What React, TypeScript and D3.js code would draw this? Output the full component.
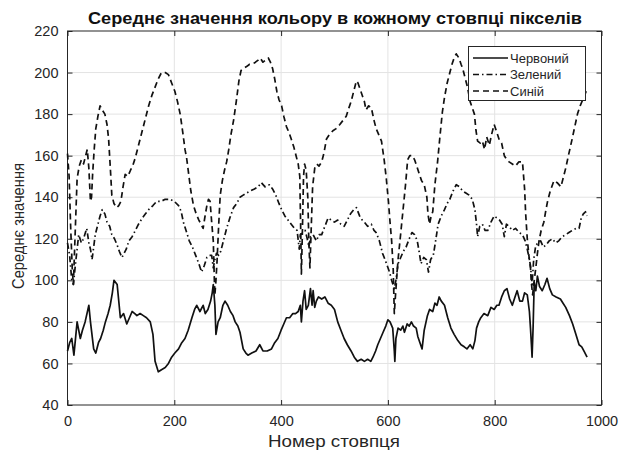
import React, { useEffect, useRef } from 'react';
import { select, scaleLinear, line, axisBottom, axisLeft, axisTop, axisRight } from 'd3';

const title = 'Середнє значення кольору в кожному стовпці пікселів';
const xLabel = 'Номер стовпця';
const yLabel = 'Середнє значення';
const xTicks = [0, 200, 400, 600, 800, 1000];
const yTicks = [40, 60, 80, 100, 120, 140, 160, 180, 200, 220];
const seriesNames = ['Червоний', 'Зелений', 'Синій'];

// [column, mean value]
const red = [
  [0, 66], [4, 70], [8, 72], [12, 64], [18, 80], [24, 72], [28, 76], [33, 80], [40, 88], [43, 80], [49, 67], [53, 65],
  [58, 70], [62, 72], [67, 76], [71, 80], [76, 84], [80, 88], [84, 94], [87, 100], [93, 98], [99, 82], [105, 84],
  [111, 79], [116, 82], [121, 85], [126, 84], [130, 83], [136, 84], [142, 83], [148, 82], [155, 80], [160, 74],
  [164, 61], [170, 56], [176, 57], [183, 58], [189, 60], [195, 63], [201, 65], [208, 67], [214, 70], [220, 72],
  [226, 76], [233, 82], [238, 86], [242, 88], [248, 85], [254, 88], [258, 84], [263, 86], [268, 90], [271, 94],
  [273, 98], [276, 88], [278, 74], [282, 80], [286, 82], [291, 88], [295, 90], [300, 88], [305, 85], [310, 83],
  [314, 80], [319, 78], [323, 75], [329, 67], [334, 65], [338, 64], [345, 65], [353, 66], [360, 69], [366, 66],
  [374, 66], [382, 67], [388, 70], [394, 72], [400, 76], [405, 79], [410, 82], [416, 82], [422, 84], [427, 84],
  [432, 85], [436, 88], [438, 80], [441, 90], [444, 95], [447, 86], [451, 88], [455, 96], [458, 88], [460, 95],
  [463, 87], [466, 90], [470, 92], [476, 91], [482, 92], [488, 89], [494, 88], [500, 86], [506, 80], [512, 76],
  [518, 72], [524, 69], [531, 66], [537, 63], [543, 61], [550, 62], [556, 61], [562, 62], [568, 61], [572, 63],
  [577, 66], [581, 69], [586, 72], [591, 75], [596, 78], [600, 81], [604, 80], [609, 77], [612, 66], [613, 61],
  [615, 72], [619, 77], [624, 76], [628, 78], [631, 75], [636, 79], [640, 78], [644, 80], [648, 78], [653, 77],
  [656, 73], [660, 70], [664, 67], [668, 76], [674, 83], [678, 86], [684, 85], [688, 89], [692, 88], [696, 92],
  [700, 90], [706, 88], [712, 82], [718, 77], [724, 74], [731, 71], [737, 69], [743, 68], [748, 67], [754, 69],
  [759, 67], [763, 71], [766, 77], [770, 80], [774, 82], [780, 84], [787, 83], [793, 87], [799, 86], [804, 88],
  [808, 88], [813, 92], [818, 95], [823, 96], [828, 91], [833, 88], [838, 92], [842, 95], [847, 90], [852, 90],
  [856, 94], [861, 93], [865, 85], [867, 77], [869, 68], [870, 63], [872, 78], [874, 99], [877, 95], [880, 102],
  [884, 97], [889, 95], [894, 98], [898, 101], [903, 96], [908, 93], [915, 92], [923, 91], [928, 89], [933, 87],
  [940, 83], [946, 79], [952, 74], [958, 69], [963, 68], [967, 66], [973, 63],
];

const green = [
  [0, 118], [4, 112], [8, 100], [11, 98], [15, 108], [21, 122], [26, 118], [30, 120], [36, 125], [40, 118],
  [43, 115], [46, 110], [49, 116], [52, 122], [56, 126], [61, 131], [65, 134], [70, 132], [74, 128], [79, 126],
  [83, 122], [88, 120], [93, 117], [97, 114], [102, 111], [106, 113], [110, 115], [115, 119], [121, 121],
  [127, 124], [133, 127], [140, 130], [146, 132], [152, 134], [160, 136], [167, 138], [175, 138], [183, 139],
  [192, 139], [200, 138], [208, 136], [213, 133], [217, 128], [222, 124], [228, 119], [234, 116], [240, 112],
  [246, 108], [251, 104], [256, 107], [261, 111], [266, 112], [270, 112], [273, 106], [276, 110], [279, 113],
  [283, 112], [287, 114], [292, 119], [298, 125], [304, 130], [311, 135], [317, 137], [323, 140], [329, 141],
  [335, 142], [342, 143], [350, 144], [357, 145], [363, 147], [370, 145], [378, 146], [384, 144], [390, 141],
  [396, 137], [401, 134], [407, 131], [413, 129], [419, 127], [425, 125], [430, 124], [434, 115], [436, 122],
  [441, 123], [445, 124], [449, 120], [452, 116], [455, 121], [460, 122], [466, 119], [471, 122], [476, 122],
  [482, 126], [488, 130], [494, 129], [500, 128], [506, 129], [512, 127], [518, 126], [524, 129], [530, 132],
  [536, 134], [541, 135], [547, 131], [552, 129], [556, 128], [562, 126], [569, 127], [574, 124], [578, 123],
  [584, 119], [590, 113], [596, 109], [603, 104], [607, 100], [612, 96], [615, 100], [619, 108], [624, 111],
  [629, 114], [634, 116], [640, 120], [645, 123], [650, 122], [655, 119], [659, 113], [662, 108], [667, 111],
  [672, 110], [676, 104], [680, 110], [685, 112], [690, 120], [694, 127], [700, 131], [706, 134], [711, 137],
  [716, 139], [722, 143], [728, 146], [734, 145], [740, 143], [746, 142], [752, 141], [758, 139], [763, 134],
  [766, 127], [768, 121], [772, 126], [777, 127], [782, 124], [787, 124], [793, 128], [799, 131], [804, 130],
  [809, 129], [814, 127], [818, 121], [822, 127], [827, 126], [833, 124], [839, 125], [846, 123], [852, 122],
  [857, 119], [861, 115], [865, 110], [867, 107], [870, 98], [873, 110], [877, 117], [882, 118], [886, 119],
  [891, 116], [896, 117], [902, 119], [908, 120], [914, 118], [920, 119], [926, 121], [933, 122], [939, 123],
  [945, 124], [952, 125], [958, 125], [962, 130], [966, 132], [970, 133], [973, 131],
];

const blue = [
  [0, 161], [3, 150], [6, 125], [9, 105], [11, 98], [14, 120], [18, 149], [22, 155], [26, 158], [30, 156],
  [34, 160], [37, 163], [40, 154], [43, 138], [45, 140], [47, 151], [50, 163], [53, 173], [57, 179], [61, 184],
  [65, 182], [70, 180], [74, 175], [77, 168], [80, 155], [83, 141], [87, 137], [92, 135], [96, 136], [100, 138],
  [104, 145], [108, 151], [113, 150], [118, 153], [122, 155], [127, 159], [133, 165], [139, 171], [145, 177],
  [152, 184], [158, 189], [164, 193], [170, 197], [176, 200], [183, 200], [189, 199], [195, 195], [201, 191],
  [206, 186], [211, 180], [216, 171], [220, 163], [223, 159], [227, 151], [231, 143], [236, 136], [241, 132],
  [246, 129], [250, 127], [254, 125], [257, 130], [261, 136], [264, 139], [267, 138], [270, 128], [273, 119],
  [275, 100], [276, 93], [278, 100], [280, 109], [283, 126], [286, 141], [290, 148], [294, 153], [298, 157],
  [302, 163], [306, 170], [311, 177], [316, 186], [321, 196], [325, 201], [330, 202], [336, 203], [341, 204],
  [346, 204], [352, 205], [357, 206], [361, 207], [366, 205], [371, 206], [376, 207], [380, 205], [384, 202],
  [388, 197], [392, 191], [396, 187], [401, 184], [405, 179], [410, 174], [415, 171], [419, 168], [424, 164],
  [428, 160], [432, 156], [435, 150], [437, 120], [438, 103], [440, 125], [442, 150], [444, 156], [447, 153],
  [450, 140], [452, 118], [454, 106], [456, 122], [459, 145], [463, 154], [467, 156], [471, 155], [476, 157],
  [480, 161], [485, 168], [490, 170], [497, 172], [503, 173], [510, 175], [516, 177], [522, 179], [527, 183],
  [531, 186], [536, 191], [541, 196], [544, 195], [548, 192], [552, 189], [556, 186], [559, 182], [564, 184],
  [569, 183], [574, 177], [578, 173], [583, 170], [588, 167], [593, 158], [597, 149], [601, 138], [604, 128],
  [607, 119], [610, 105], [612, 84], [614, 92], [617, 103], [619, 110], [623, 120], [628, 133], [633, 146],
  [637, 158], [641, 160], [646, 160], [650, 158], [654, 155], [659, 151], [663, 148], [668, 146], [673, 140],
  [675, 132], [678, 127], [681, 131], [684, 133], [688, 146], [693, 157], [697, 168], [702, 181], [706, 188],
  [711, 195], [715, 199], [720, 204], [724, 207], [728, 209], [733, 207], [737, 204], [740, 202], [745, 197],
  [749, 193], [754, 186], [758, 183], [762, 180], [765, 172], [768, 167], [773, 166], [777, 167], [781, 163],
  [785, 169], [790, 165], [794, 170], [799, 175], [803, 172], [808, 168], [813, 166], [818, 160], [823, 158],
  [827, 157], [833, 156], [839, 155], [845, 157], [852, 157], [856, 144], [858, 132], [861, 120], [864, 112],
  [867, 106], [869, 98], [871, 93], [874, 100], [877, 106], [880, 113], [883, 119], [887, 124], [892, 128],
  [896, 134], [899, 138], [904, 143], [911, 148], [917, 147], [924, 145], [929, 150], [933, 154], [938, 160],
  [945, 168], [950, 174], [955, 180], [960, 184], [965, 187], [973, 192],
];

const W = 619;
const H = 450;
const FONT = "'Liberation Sans', Arial, sans-serif";
const INK = '#262626';

const App = () => {
  const svgRef = useRef(null);

  useEffect(() => {
    const svg = select(svgRef.current);
    svg.selectAll('*').remove();

    const left = 67.5, right = 601.5, top = 31, bottom = 405;
    const x = scaleLinear().domain([0, 1000]).range([left, right]);
    const y = scaleLinear().domain([40, 220]).range([bottom, top]);

    svg.append('rect').attr('width', W).attr('height', H).attr('fill', '#fff');

    // grid
    const grid = svg.append('g').attr('stroke', '#e3e3e3').attr('stroke-width', 1);
    xTicks.slice(1, -1).forEach(t => {
      grid.append('line').attr('x1', x(t)).attr('x2', x(t)).attr('y1', top).attr('y2', bottom);
    });
    yTicks.slice(1, -1).forEach(t => {
      grid.append('line').attr('x1', left).attr('x2', right).attr('y1', y(t)).attr('y2', y(t));
    });

    // axes with ticks pointing inward
    const styleAxis = g => {
      g.select('.domain').remove();
      g.selectAll('line').attr('stroke', INK);
      g.selectAll('text').attr('fill', INK).attr('font-family', FONT).attr('font-size', 14.5);
    };
    svg.append('g').attr('transform', `translate(0,${bottom})`)
      .call(axisBottom(x).tickValues(xTicks).tickSizeInner(-5).tickSizeOuter(0).tickPadding(11).tickFormat(d => String(d)))
      .call(styleAxis);
    svg.append('g').attr('transform', `translate(${left},0)`)
      .call(axisLeft(y).tickValues(yTicks).tickSizeInner(-5).tickSizeOuter(0).tickPadding(9).tickFormat(d => String(d)))
      .call(styleAxis);
    svg.append('g').attr('transform', `translate(0,${top})`)
      .call(axisTop(x).tickValues(xTicks).tickSizeInner(-5).tickSizeOuter(0).tickFormat(() => ''))
      .call(styleAxis);
    svg.append('g').attr('transform', `translate(${right},0)`)
      .call(axisRight(y).tickValues(yTicks).tickSizeInner(-5).tickSizeOuter(0).tickFormat(() => ''))
      .call(styleAxis);

    svg.append('rect')
      .attr('x', left).attr('y', top).attr('width', right - left).attr('height', bottom - top)
      .attr('fill', 'none').attr('stroke', INK).attr('stroke-width', 1);

    // series
    const path = line().x(d => x(d[0])).y(d => y(d[1]));
    const series = [
      { data: red, dash: null },
      { data: green, dash: '6,3,1.5,3' },
      { data: blue, dash: '6,4' },
    ];
    series.forEach(s => {
      svg.append('path')
        .attr('d', path(s.data))
        .attr('fill', 'none')
        .attr('stroke', '#111')
        .attr('stroke-width', 1.7)
        .attr('stroke-dasharray', s.dash)
        .attr('stroke-linejoin', 'round');
    });

    // legend
    const lg = svg.append('g');
    lg.append('rect').attr('x', 468.5).attr('y', 46.5).attr('width', 117).attr('height', 54)
      .attr('fill', '#fff').attr('stroke', INK).attr('stroke-width', 1);
    seriesNames.forEach((name, i) => {
      const cy = 58 + i * 16.5;
      lg.append('line').attr('x1', 473).attr('x2', 508).attr('y1', cy).attr('y2', cy)
        .attr('stroke', '#111').attr('stroke-width', 1.6).attr('stroke-dasharray', series[i].dash);
      lg.append('text').attr('x', 510).attr('y', cy).attr('dy', '0.35em')
        .attr('font-family', FONT).attr('font-size', 13).attr('fill', INK).text(name);
    });

    // titles
    svg.append('text').attr('x', 335).attr('y', 24).attr('text-anchor', 'middle')
      .attr('textLength', 494).attr('lengthAdjust', 'spacingAndGlyphs')
      .attr('font-family', FONT).attr('font-size', 17).attr('font-weight', 'bold').attr('fill', '#111').text(title);
    svg.append('text').attr('x', 334).attr('y', 447).attr('text-anchor', 'middle')
      .attr('textLength', 132).attr('lengthAdjust', 'spacingAndGlyphs')
      .attr('font-family', FONT).attr('font-size', 16.5).attr('fill', INK).text(xLabel);
    svg.append('text').attr('transform', `translate(24,226) rotate(-90)`)
      .attr('text-anchor', 'middle')
      .attr('textLength', 126).attr('lengthAdjust', 'spacingAndGlyphs')
      .attr('font-family', FONT).attr('font-size', 16).attr('fill', INK).text(yLabel);
  }, []);

  return (
    <div style={{ position: 'absolute', left: 0, top: 0 }}>
      <svg ref={svgRef} width={W} height={H} />
    </div>
  );
};

export default App;
